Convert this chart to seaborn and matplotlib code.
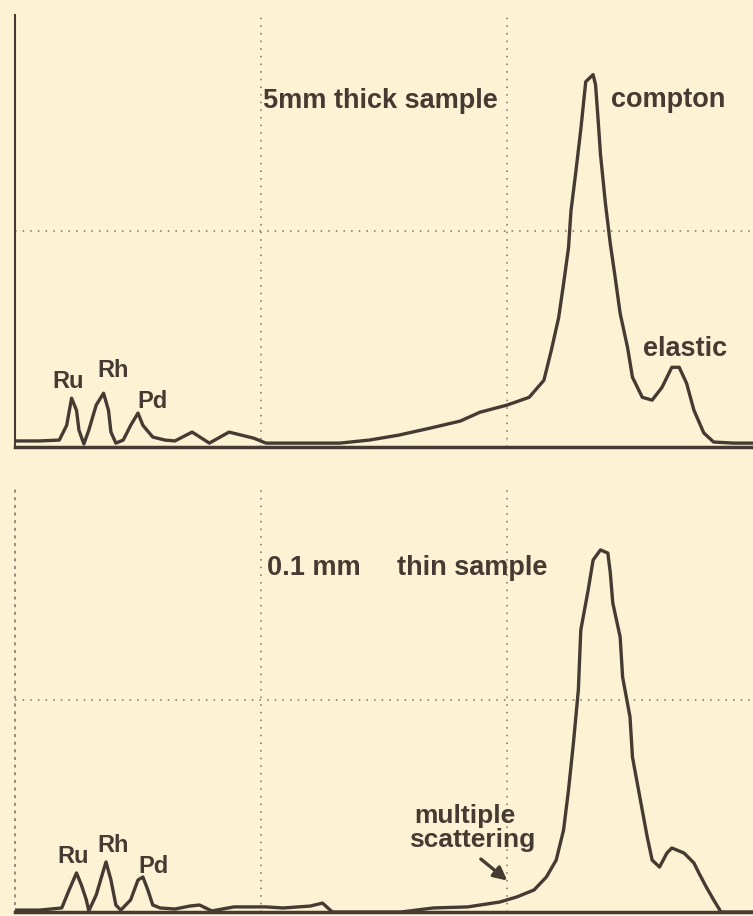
import matplotlib
matplotlib.use('Agg')
import matplotlib.pyplot as plt
import pandas as pd
import seaborn as sns

# channel numbers (0-300) and counts
thick_ch = [0, 10, 18, 21, 23, 25, 26, 28, 30, 33, 36, 38, 39, 41, 44, 47, 50, 52, 56, 61,
            65, 72, 79, 87, 97, 102, 116, 132, 144, 156, 169, 181, 189, 200, 209, 215, 218,
            221, 223, 225, 226, 228, 230, 232, 235, 236, 237, 238, 240, 242, 244, 246, 249,
            251, 255, 259, 263, 267, 270, 273, 276, 280, 284, 292, 300]
thick_counts = [28, 28, 32, 100, 226, 170, 78, 14, 78, 194, 249, 170, 69, 18, 32, 100, 157,
                100, 46, 32, 28, 69, 18, 69, 41, 18, 18, 18, 32, 55, 88, 120, 161, 194, 230,
                309, 447, 599, 756, 922, 1092, 1276, 1470, 1691, 1724, 1677, 1521, 1355, 1129,
                940, 783, 618, 461, 323, 230, 217, 276, 369, 369, 295, 170, 65, 23, 18, 18]

thin_ch = [0, 10, 19, 22, 25, 27, 29, 30, 33, 36, 37, 39, 41, 43, 47, 50, 52, 54, 56, 59,
           65, 71, 75, 80, 89, 102, 109, 120, 125, 129, 140, 157, 170, 184, 197, 204, 211,
           216, 220, 223, 225, 227, 229, 230, 233, 235, 238, 241, 242, 243, 246, 247, 250,
           251, 254, 257, 259, 262, 265, 267, 272, 276, 278, 281, 284, 287, 300]
thin_counts = [9, 9, 19, 104, 184, 127, 57, 5, 80, 198, 236, 151, 33, 9, 57, 151, 165, 104,
               33, 19, 14, 28, 33, 5, 24, 24, 19, 28, 42, 0, 0, 0, 19, 24, 47, 71, 104, 165,
               245, 387, 575, 797, 1047, 1330, 1519, 1660, 1708, 1693, 1599, 1458, 1297, 1108,
               920, 731, 542, 354, 245, 212, 278, 302, 278, 231, 184, 118, 57, 0, 0]

thick_df = pd.DataFrame({'channel': thick_ch, 'counts': thick_counts})
thin_df = pd.DataFrame({'channel': thin_ch, 'counts': thin_counts})

bg = '#fbf3d3'
ink = '#463b33'
grid_col = '#7a7068'

sns.set_theme(style='white')
plt.rcParams['font.family'] = ['Liberation Sans', 'DejaVu Sans']
plt.rcParams['font.weight'] = 'bold'

fig = plt.figure(figsize=(7.53, 9.16), dpi=100, facecolor=bg)
ax1 = fig.add_axes([15 / 753, 469 / 916, 738 / 753, 432 / 916])
ax2 = fig.add_axes([15 / 753, 4 / 916, 738 / 753, 424 / 916])

for ax, df in [(ax1, thick_df), (ax2, thin_df)]:
    ax.set_facecolor(bg)
    sns.lineplot(data=df, x='channel', y='counts', ax=ax, color=ink, lw=2.4,
                 estimator=None, sort=False)
    ax.set_xlim(0, 300)
    ax.set_ylim(0, 2000)
    ax.set_xticks([100, 200])
    ax.set_yticks([1000])
    ax.grid(True, color=grid_col, ls=(0, (1, 4)), lw=1.1)
    ax.tick_params(length=0, labelbottom=False, labelleft=False)
    ax.set_xlabel('')
    ax.set_ylabel('')
    for s in ['top', 'right']:
        ax.spines[s].set_visible(False)
    ax.spines['bottom'].set_color(ink)
    ax.spines['bottom'].set_linewidth(2.5)

ax1.spines['left'].set_color(ink)
ax1.spines['left'].set_linewidth(1.5)
ax2.spines['left'].set_color(grid_col)
ax2.spines['left'].set_linestyle((0, (1, 4)))
ax2.spines['left'].set_linewidth(1.1)

big = dict(fontsize=19.5, color=ink, fontweight='bold', va='baseline', ha='left')
small = dict(fontsize=17, color=ink, fontweight='bold', va='baseline', ha='left')

# top panel labels
ax1.text(100.8, 1571, '5mm thick sample', **big)
ax1.text(242.3, 1576, 'compton', **big)
ax1.text(255.3, 419, 'elastic', **big)
ax1.text(15, 272, 'Ru', **small)
ax1.text(33.3, 323, 'Rh', **small)
ax1.text(49.6, 180, 'Pd', **small)

# bottom panel labels
ax2.text(102.4, 1590, '0.1 mm', **big)
ax2.text(155.3, 1590, 'thin sample', **big)
ax2.text(17.1, 231, 'Ru', **small)
ax2.text(33.3, 283, 'Rh', **small)
ax2.text(50, 184, 'Pd', **small)
ax2.text(183, 420, 'multiple', fontsize=19, color=ink, fontweight='bold',
         va='baseline', ha='center')
ax2.text(186, 307, 'scattering', fontsize=19, color=ink, fontweight='bold',
         va='baseline', ha='center')
ax2.annotate('', xy=(201, 140), xytext=(188.5, 258),
             arrowprops=dict(arrowstyle='-|>', color=ink, lw=2.4, mutation_scale=20))

fig.savefig('out.png', dpi=100, facecolor=bg)
